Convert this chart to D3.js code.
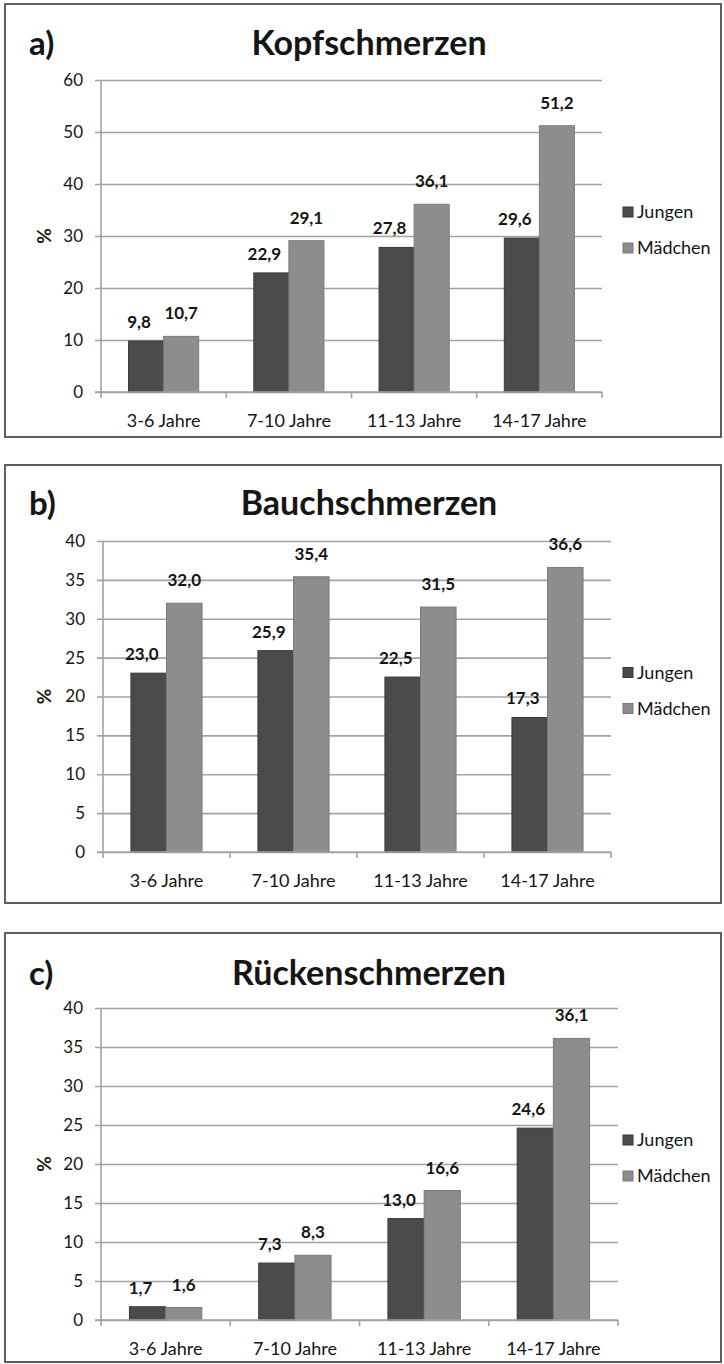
<!DOCTYPE html>
<html>
<head>
<meta charset="utf-8">
<script src="https://cdn.jsdelivr.net/npm/d3@7"></script>
<style>
  html, body { margin: 0; padding: 0; background: #fff; }
  svg { display: block; }
  text { font-family: Lato, "Open Sans", sans-serif; fill: #151515; }
</style>
</head>
<body>
<svg id="chart" width="724" height="1364"></svg>
<script>
// Age groups and series
const categories = ["3-6 Jahre", "7-10 Jahre", "11-13 Jahre", "14-17 Jahre"];
const seriesNames = ["Jungen", "Mädchen"];

// Prevalence in percent
const kopfJungen = [9.8, 22.9, 27.8, 29.6];
const kopfMaedchen = [10.7, 29.1, 36.1, 51.2];
const bauchJungen = [23.0, 25.9, 22.5, 17.3];
const bauchMaedchen = [32.0, 35.4, 31.5, 36.6];
const rueckenJungen = [1.7, 7.3, 13.0, 24.6];
const rueckenMaedchen = [1.6, 8.3, 16.6, 36.1];

// Y tick values
const kopfTicks = [0, 10, 20, 30, 40, 50, 60];
const bauchTicks = [0, 5, 10, 15, 20, 25, 30, 35, 40];
const rueckenTicks = [0, 5, 10, 15, 20, 25, 30, 35, 40];

// Panel letters and titles
const panelLetters = ["a)", "b)", "c)"];
const panelTitles = ["Kopfschmerzen", "Bauchschmerzen", "Rückenschmerzen"];
const axisTitle = "%";

// Layout of the three stacked panels
const panels = [
  { letter: panelLetters[0], title: panelTitles[0], jungen: kopfJungen, maedchen: kopfMaedchen, ticks: kopfTicks,
    box: [5, 4, 721, 437], titleY: 55, plot: { x0: 101, x1: 602, yTop: 80, yBottom: 392 } },
  { letter: panelLetters[1], title: panelTitles[1], jungen: bauchJungen, maedchen: bauchMaedchen, ticks: bauchTicks,
    box: [5, 465, 721, 903], titleY: 515, plot: { x0: 103, x1: 611, yTop: 541, yBottom: 852 } },
  { letter: panelLetters[2], title: panelTitles[2], jungen: rueckenJungen, maedchen: rueckenMaedchen, ticks: rueckenTicks,
    box: [5, 933, 721, 1362], titleY: 985, plot: { x0: 101, x1: 618, yTop: 1008, yBottom: 1320 } }
];

const colors = { "Jungen": "#4b4b4b", "Mädchen": "#8d8d8d" };
const strokes = { "Jungen": "#383838", "Mädchen": "#7b7b7b" };
const gridColor = "#a3a3a3";

const deLocale = d3.formatLocale({ decimal: ",", thousands: ".", grouping: [3], currency: ["", " €"] });
const fmtValue = deLocale.format(".1f");

const svg = d3.select("#chart");

panels.forEach(p => {
  const g = svg.append("g");
  const [bx0, by0, bx1, by1] = p.box;
  const { x0, x1, yTop, yBottom } = p.plot;

  // Frame
  g.append("rect")
    .attr("x", bx0).attr("y", by0)
    .attr("width", bx1 - bx0).attr("height", by1 - by0)
    .attr("fill", "#fff").attr("stroke", "#5e5e5e").attr("stroke-width", 2);

  // Scales
  const x = d3.scaleBand().domain(categories).range([x0, x1]).paddingInner(0.44).paddingOuter(0.22);
  const xs = d3.scaleBand().domain(seriesNames).range([0, x.bandwidth()]);
  const y = d3.scaleLinear().domain([0, d3.max(p.ticks)]).range([yBottom, yTop]);

  // Gridlines (with the short outer tick on the left)
  const grid = g.append("g")
    .attr("transform", `translate(${x0 - 6},0)`)
    .call(d3.axisLeft(y).tickValues(p.ticks).tickSizeInner(-(x1 - x0 + 6)).tickSizeOuter(0).tickFormat(""));
  grid.select(".domain").remove();
  grid.selectAll(".tick line").attr("stroke", gridColor).attr("stroke-width", 1.6);

  // Y tick labels
  const yAxis = g.append("g")
    .attr("transform", `translate(${x0},0)`)
    .call(d3.axisLeft(y).tickValues(p.ticks).tickSize(0).tickPadding(18).tickFormat(d3.format("d")));
  yAxis.select(".domain").remove();
  yAxis.selectAll("text")
    .style("font-family", "Lato, sans-serif").style("font-size", "17px").attr("fill", "#1a1a1a");

  // Vertical axis line
  g.append("line")
    .attr("x1", x0).attr("x2", x0).attr("y1", yTop).attr("y2", yBottom)
    .attr("stroke", gridColor).attr("stroke-width", 1.6);

  // Bars
  const series = [
    { name: seriesNames[0], values: p.jungen },
    { name: seriesNames[1], values: p.maedchen }
  ];
  series.forEach(s => {
    g.append("g").selectAll("rect")
      .data(s.values)
      .join("rect")
      .attr("x", (d, i) => x(categories[i]) + xs(s.name))
      .attr("y", d => y(d))
      .attr("width", xs.bandwidth())
      .attr("height", d => y(0) - y(d))
      .attr("fill", colors[s.name])
      .attr("stroke", strokes[s.name])
      .attr("stroke-width", 1);
  });

  // X axis baseline, category separators and labels
  const xAxis = g.append("g")
    .attr("transform", `translate(0,${yBottom})`)
    .call(d3.axisBottom(x).tickSize(0).tickPadding(22));
  xAxis.select(".domain").remove();
  xAxis.selectAll("text")
    .style("font-family", "Lato, sans-serif").style("font-size", "18px").attr("fill", "#1a1a1a");

  g.append("line")
    .attr("x1", x0 - 6).attr("x2", x1).attr("y1", yBottom).attr("y2", yBottom)
    .attr("stroke", gridColor).attr("stroke-width", 1.6);
  const bounds = d3.range(categories.length + 1).map(i => x0 + i * x.step());
  g.append("g").selectAll("line")
    .data(bounds)
    .join("line")
    .attr("x1", d => d).attr("x2", d => d)
    .attr("y1", yBottom).attr("y2", yBottom + 6)
    .attr("stroke", gridColor).attr("stroke-width", 1.6);

  // Value labels
  series.forEach((s, si) => {
    g.append("g").selectAll("text")
      .data(s.values)
      .join("text")
      .attr("x", (d, i) => x(categories[i]) + xs(s.name) + xs.bandwidth() / 2 + (si === 0 ? -7 : 0))
      .attr("y", d => y(d) - (si === 0 ? 13 : 17))
      .attr("text-anchor", "middle")
      .style("font-size", "17px").style("font-weight", "700")
      .text(d => fmtValue(d));
  });

  // Axis title
  const yMid = (yTop + yBottom) / 2;
  g.append("text")
    .attr("transform", `translate(51,${yMid}) rotate(-90)`)
    .attr("text-anchor", "middle")
    .style("font-size", "19px").style("font-weight", "700")
    .text(axisTitle);

  // Panel letter and title
  g.append("text")
    .attr("x", 29).attr("y", p.titleY)
    .style("font-size", "33px").style("font-weight", "700")
    .text(p.letter);
  g.append("text")
    .attr("x", 369).attr("y", p.titleY)
    .attr("text-anchor", "middle")
    .style("font-size", "34px").style("font-weight", "700")
    .text(p.title);

  // Legend
  const legend = g.append("g").attr("transform", `translate(623,${yMid - 29})`);
  seriesNames.forEach((name, i) => {
    const row = legend.append("g").attr("transform", `translate(0,${i * 36})`);
    row.append("rect")
      .attr("x", 0).attr("y", 0).attr("width", 10).attr("height", 10)
      .attr("fill", colors[name]).attr("stroke", strokes[name]).attr("stroke-width", 1);
    row.append("text")
      .attr("x", 14).attr("y", 11)
      .style("font-size", "18px")
      .text(name);
  });
});
</script>
</body>
</html>
